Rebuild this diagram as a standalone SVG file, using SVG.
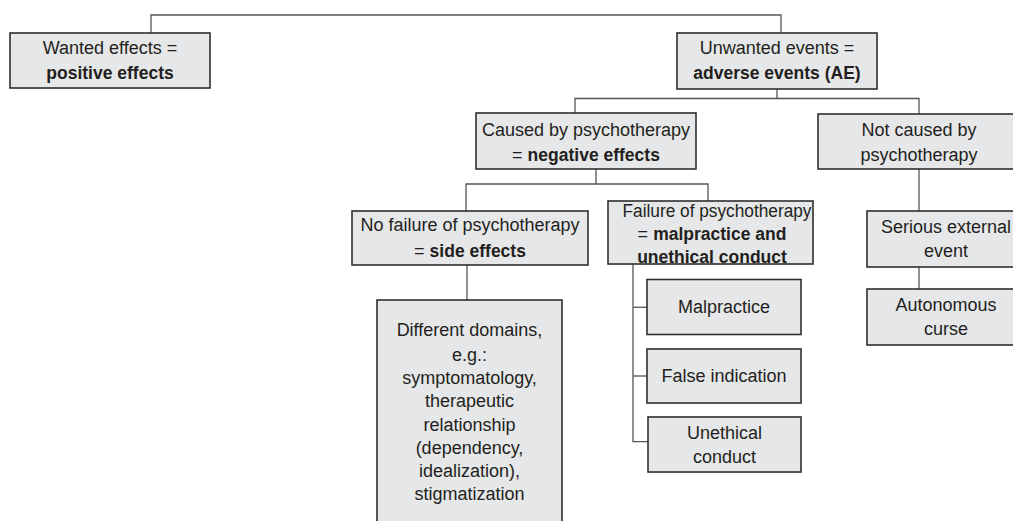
<svg xmlns="http://www.w3.org/2000/svg" width="1013" height="521" viewBox="0 0 1013 521">
<style>
.box{fill:#e6e7e8;stroke:#2f2f2f;stroke-width:1.6}
.t{font-family:"Liberation Sans",Arial,sans-serif;font-size:18px;fill:#231f20;text-anchor:middle}
.b{font-weight:bold;font-size:17.5px}
.c{fill:none;stroke:#555;stroke-width:1.3}
</style>
<rect width="1013" height="521" fill="#fff"/>
<g id="connectors">
<path class="c" d="M151,33V15H781V33"/>
<path class="c" d="M777,89V98.5H919V114"/>
<path class="c" d="M777,98.5H575V113"/>
<path class="c" d="M596,169V184H466V211"/>
<path class="c" d="M596,184H708V201"/>
<path class="c" d="M467,265V300"/>
<path class="c" d="M633,264V441.7H648"/>
<path class="c" d="M633,307.3H647"/>
<path class="c" d="M633,376H647"/>
<path class="c" d="M919,169V211"/>
<path class="c" d="M919,267V289"/>
</g>
<g id="wanted">
<rect class="box" x="10" y="33" width="200" height="55"/>
<text class="t" x="110" y="54">Wanted effects =</text>
<text class="t b" x="110" y="79">positive effects</text>
</g>
<g id="unwanted">
<rect class="box" x="677" y="33" width="200" height="56"/>
<text class="t" x="777" y="54">Unwanted events =</text>
<text class="t b" x="777" y="79">adverse events (AE)</text>
</g>
<g id="caused">
<rect class="box" x="476" y="113" width="220" height="56"/>
<text class="t" x="586" y="136">Caused by psychotherapy</text>
<text class="t" x="586" y="161">= <tspan class="b">negative effects</tspan></text>
</g>
<g id="notcaused">
<rect class="box" x="818" y="114" width="200" height="55"/>
<text class="t" x="919" y="136">Not caused by</text>
<text class="t" x="919" y="161">psychotherapy</text>
</g>
<g id="nofailure">
<rect class="box" x="352" y="211" width="236" height="54"/>
<text class="t" x="470" y="231">No failure of psychotherapy</text>
<text class="t" x="470" y="257">= <tspan class="b">side effects</tspan></text>
</g>
<g id="failure">
<rect class="box" x="608" y="201" width="205" height="63"/>
<text class="t" x="717" y="217" textLength="189" lengthAdjust="spacingAndGlyphs">Failure of psychotherapy</text>
<text class="t" x="712" y="240">= <tspan class="b">malpractice and</tspan></text>
<text class="t b" x="712" y="263">unethical conduct</text>
</g>
<g id="serious">
<rect class="box" x="867" y="211" width="150" height="56"/>
<text class="t" x="946" y="233">Serious external</text>
<text class="t" x="946" y="257">event</text>
</g>
<g id="autonomous">
<rect class="box" x="867" y="289" width="150" height="56"/>
<text class="t" x="946" y="311">Autonomous</text>
<text class="t" x="946" y="335">curse</text>
</g>
<g id="domains">
<rect class="box" x="377" y="300" width="185" height="240"/>
<text class="t" x="469.5" y="336">Different domains,</text>
<text class="t" x="469.5" y="361">e.g.:</text>
<text class="t" x="469.5" y="384">symptomatology,</text>
<text class="t" x="469.5" y="407">therapeutic</text>
<text class="t" x="469.5" y="431">relationship</text>
<text class="t" x="469.5" y="454">(dependency,</text>
<text class="t" x="469.5" y="477">idealization),</text>
<text class="t" x="469.5" y="500">stigmatization</text>
</g>
<g id="malpractice">
<rect class="box" x="647" y="279.5" width="154" height="55"/>
<text class="t" x="724" y="313">Malpractice</text>
</g>
<g id="falseind">
<rect class="box" x="647" y="349" width="154" height="54"/>
<text class="t" x="724" y="382">False indication</text>
</g>
<g id="unethical">
<rect class="box" x="648" y="417" width="153" height="55"/>
<text class="t" x="724.5" y="439">Unethical</text>
<text class="t" x="724.5" y="463">conduct</text>
</g>
</svg>
